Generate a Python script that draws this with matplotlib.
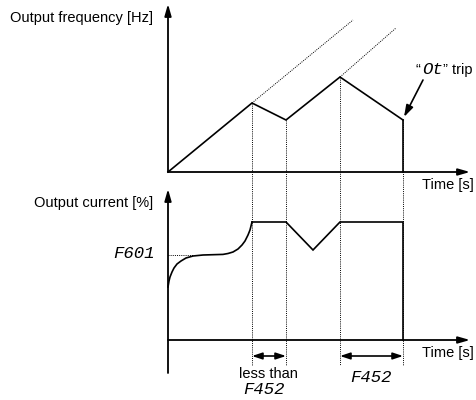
import matplotlib
matplotlib.use("Agg")
import matplotlib.pyplot as plt
import numpy as np

# ---- data (schematic units: 1 unit ~ 1 px, origin at each panel's axis corner) ----
event_times = [0, 84, 118, 172, 235]          # key time points
freq_values = [0, 69, 52, 95, 52]             # output frequency at those times
accel_ext_1 = ([84, 185], [69, 152])          # dotted continuation of acceleration
accel_ext_2 = ([172, 228], [95, 144])

cur_t = [0, 1, 2, 4, 6, 9, 13, 18, 25, 35, 45, 55, 60, 65, 70, 74, 77, 80, 82, 84]
cur_v = [53, 59, 63, 68, 72, 76, 79, 82, 84, 85, 85.3, 85.6, 86.5, 88, 91, 95, 99, 105, 110, 118]
cur_t2 = [84, 118, 145, 172, 235, 235]
cur_v2 = [118, 118, 90, 118, 118, 0]
f601_level = 85

W, H = 477, 400
fig = plt.figure(figsize=(W / 100, H / 100), dpi=100)
fig.patch.set_facecolor("white")

ox = 168
oy_top, oy_bot = 172, 340

def panel(oy):
    ax = fig.add_axes([0, 0, 1, 1])
    ax.set_xlim(-ox, W - ox)
    ax.set_ylim(-(H - oy), oy)
    ax.axis("off")
    ax.patch.set_alpha(0)
    return ax

axT = panel(oy_top)
axB = panel(oy_bot)

label_font = dict(family=["Liberation Sans", "DejaVu Sans"], fontsize=10.5, color="black")
seg_font = dict(family=["Liberation Mono", "DejaVu Sans Mono"], fontsize=12.5, style="italic",
                color="black")
axis_arrow = dict(arrowstyle="-|>,head_length=0.7,head_width=0.2", lw=1.3, color="black",
                  shrinkA=0, shrinkB=0)

# ---- top panel ----
axT.annotate("", xy=(0, 168), xytext=(0, 0), arrowprops=axis_arrow)
axT.annotate("", xy=(302, 0), xytext=(0, 0), arrowprops=axis_arrow)
axT.plot(event_times, freq_values, color="black", lw=1.2, solid_joinstyle="miter")
axT.plot([event_times[-1], event_times[-1]], [freq_values[-1], 0], color="black", lw=1.2)
for ext in (accel_ext_1, accel_ext_2):
    axT.plot(ext[0], ext[1], color="black", lw=0.7, ls=(0, (1, 1.2)))
for t, f in zip(event_times[1:], freq_values[1:]):
    axT.plot([t, t], [f, -(365 - oy_top)], color="black", lw=0.7, ls=(0, (1, 1.2)))

# "Ot" trip annotation
axT.annotate("", xy=(236, 55), xytext=(255, 92),
             arrowprops=dict(arrowstyle="-|>,head_length=0.7,head_width=0.22", lw=1.2,
                             color="black", shrinkA=0, shrinkB=0))
fig.text(416 / W, 1 - 70 / H, "\u201c", ha="left", va="center", **label_font)
fig.text(422 / W, 1 - 70 / H, "Ot", ha="left", va="center", **seg_font)
fig.text(443 / W, 1 - 70 / H, "\u201d trip", ha="left", va="center", **label_font)

fig.text(153 / W, 1 - 18 / H, "Output frequency [Hz]", ha="right", va="center", **label_font)
fig.text(448 / W, 1 - 185 / H, "Time [s]", ha="center", va="center", **label_font)

# ---- bottom panel ----
axB.annotate("", xy=(0, 151), xytext=(0, -33), arrowprops=axis_arrow)
axB.annotate("", xy=(302, 0), xytext=(0, 0), arrowprops=axis_arrow)
axB.plot(cur_t, cur_v, color="black", lw=1.2)
axB.plot(cur_t2, cur_v2, color="black", lw=1.2, solid_joinstyle="miter")
axB.plot([0, 25], [f601_level, f601_level], color="black", lw=0.7, ls=(0, (1, 1.2)))

dbl = dict(arrowstyle="<|-|>,head_length=0.6,head_width=0.2", lw=1.2, color="black",
           shrinkA=0, shrinkB=0)
axB.annotate("", xy=(event_times[1], -16), xytext=(event_times[2], -16), arrowprops=dbl)
axB.annotate("", xy=(event_times[3], -16), xytext=(event_times[4], -16), arrowprops=dbl)

fig.text(153 / W, 1 - 203 / H, "Output current [%]", ha="right", va="center", **label_font)
fig.text(155 / W, 1 - 253 / H, "F601", ha="right", va="center", **seg_font)
fig.text(448 / W, 1 - 353 / H, "Time [s]", ha="center", va="center", **label_font)
fig.text(268 / W, 1 - 374 / H, "less than", ha="center", va="center", **label_font)
fig.text(264 / W, 1 - 389 / H, "F452", ha="center", va="center", **seg_font)
fig.text(371 / W, 1 - 377 / H, "F452", ha="center", va="center", **seg_font)

fig.savefig("out.png", dpi=100, facecolor="white")
